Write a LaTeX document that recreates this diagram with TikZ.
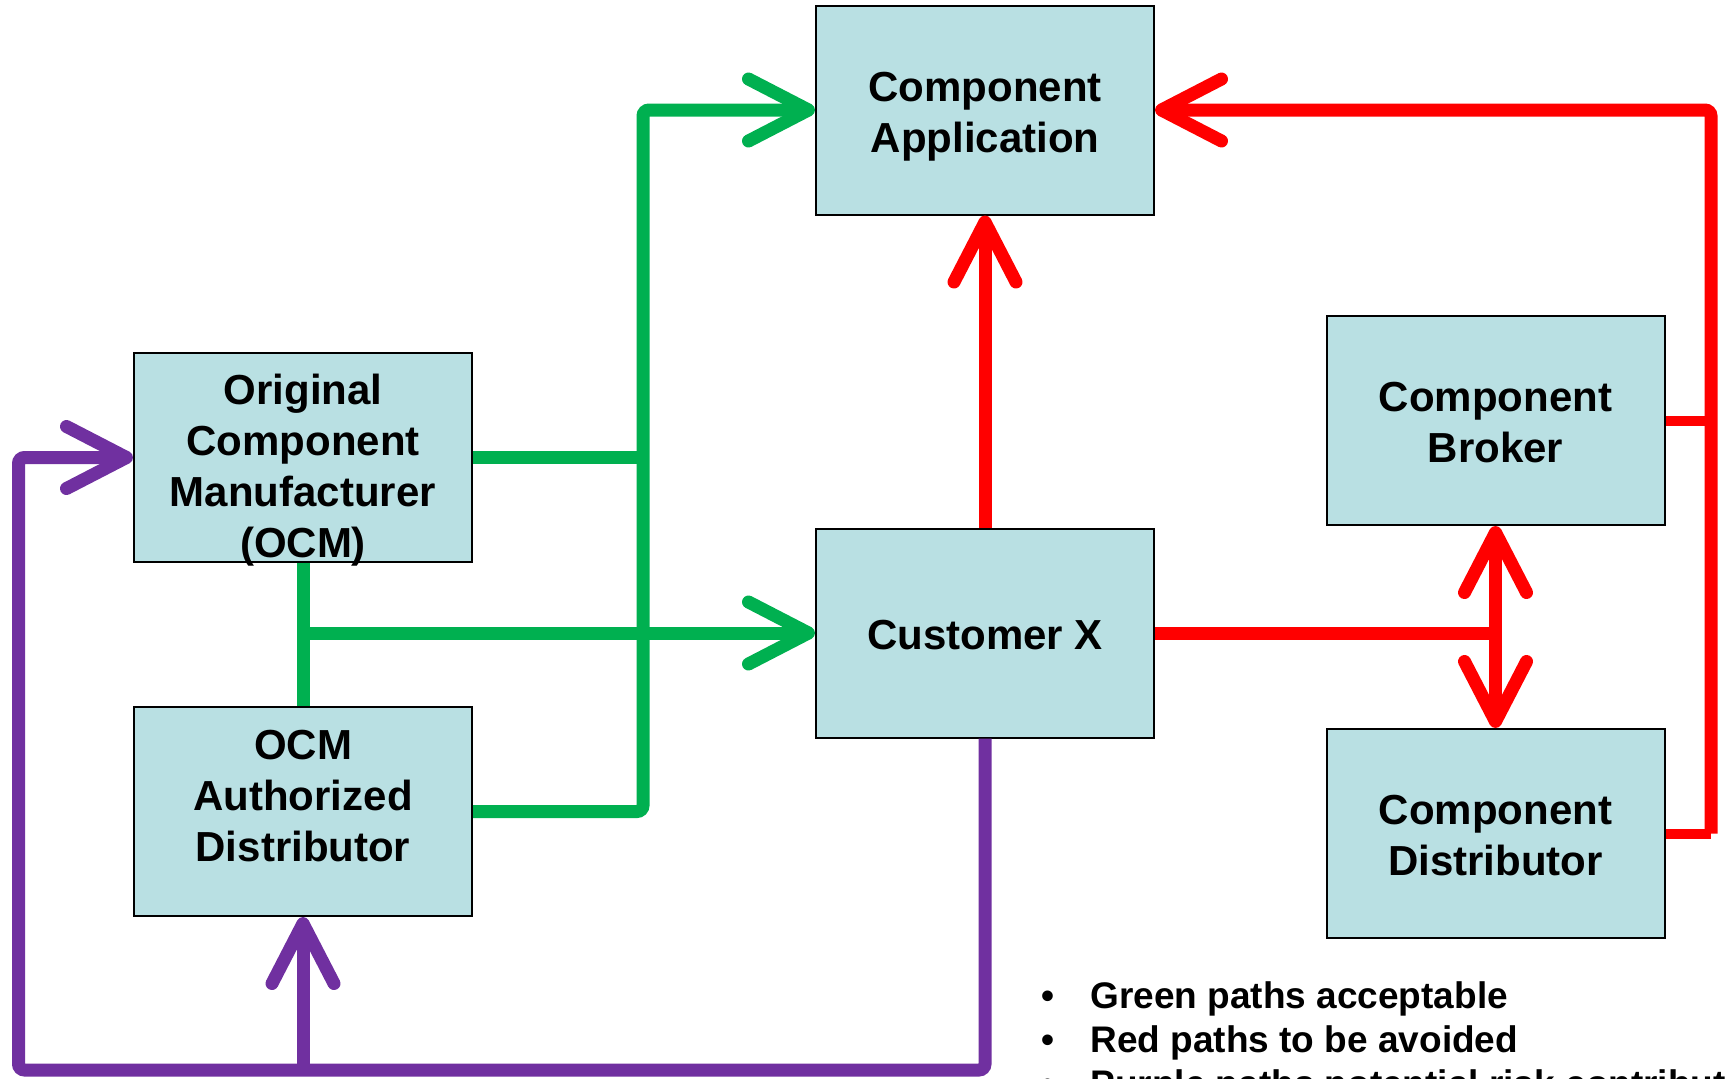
\documentclass[tikz,border=0pt]{standalone}
\usepackage{fontspec}
\setmainfont{Liberation Sans}
\usetikzlibrary{arrows.meta}
\definecolor{boxblue}{RGB}{185,224,227}
\definecolor{okgreen}{RGB}{0,176,80}
\definecolor{badred}{RGB}{255,0,0}
\definecolor{riskpurple}{RGB}{112,48,160}
\begin{document}
\begin{tikzpicture}[x=1pt,y=-1pt,line width=13pt,
    font=\fontsize{42}{51}\selectfont\bfseries,
    block/.style={draw=black,line width=2pt,fill=boxblue,
      minimum width=338pt,minimum height=209pt,inner sep=0pt},
    blocktext/.style={align=center,inner sep=0pt},
    barb/.tip={Straight Barb[length=60pt,width=62pt,round]},
    okpath/.style={draw=okgreen,rounded corners=6pt},
    badpath/.style={draw=badred,rounded corners=6pt},
    riskpath/.style={draw=riskpurple,rounded corners=6pt}]
    \useasboundingbox (0,0) rectangle (1725,1079);
    \clip (0,0) rectangle (1725,1079);
    % boxes
    \node[block] (app) at (985,110) {};
    \node[block] (ocm) at (303,457.5) {};
    \node[block] (auth) at (303,811.5) {};
    \node[block] (cust) at (985,633) {};
    \node[block] (broker) at (1495.5,420.5) {};
    \node[block] (dist) at (1495.5,833.5) {};
    \node[blocktext] (apptext) at (985,117) {Component\\Application};
    \node[blocktext] (ocmtext) at (303,470.5) {Original\\Component\\Manufacturer\\(OCM)};
    \node[blocktext] (authtext) at (303,796.5) {OCM\\Authorized\\Distributor};
    \node[blocktext] (custtext) at (985,635) {Customer X};
    \node[blocktext] (brokertext) at (1495.5,422.5) {Component\\Broker};
    \node[blocktext] (disttext) at (1495.5,835.5) {Component\\Distributor};
    \coordinate (gbus) at (643,110);
    \coordinate (rbus) at (1711,110);
    \coordinate (pbus) at (18.5,1070);
    % green paths
    \draw[okpath,-barb] (auth.east) -| (gbus) -- (app.west);
    \draw[okpath] (ocm.east) -- (ocm.east -| gbus);
    \draw[okpath] (ocm.south) -- (auth.north);
    \draw[okpath,-barb] (ocm.south |- cust.west) -- (cust.west);
    % red paths
    \draw[badpath,-barb] (cust.north) -- (app.south);
    \draw[badpath,line width=10pt] (dist.east) -- (dist.east -| rbus);
    \draw[badpath,line width=10pt] (broker.east) -- (broker.east -| rbus);
    \draw[badpath,-barb] (dist.east -| rbus) -- (rbus) -- (app.east);
    \draw[badpath] (cust.east) -- (cust.east -| broker.south);
    \draw[badpath,barb-barb] (broker.south) -- (dist.north);
    % purple paths
    \draw[riskpath,-barb] (cust.south) |- (pbus) |- (ocm.west);
    \draw[riskpath,-barb] (auth.south |- pbus) -- (auth.south);
    % notes
    \foreach \i/\txt in {0/Green paths acceptable,1/Red paths to be avoided,
        2/Purple paths potential risk contributors} {
      \node[anchor=base west,inner sep=0pt,font=\fontsize{37}{44}\selectfont\bfseries]
        (note\i) at (1035,1008+44*\i) {\makebox[49pt][l]{•}\txt};
    }
\end{tikzpicture}
\end{document}
